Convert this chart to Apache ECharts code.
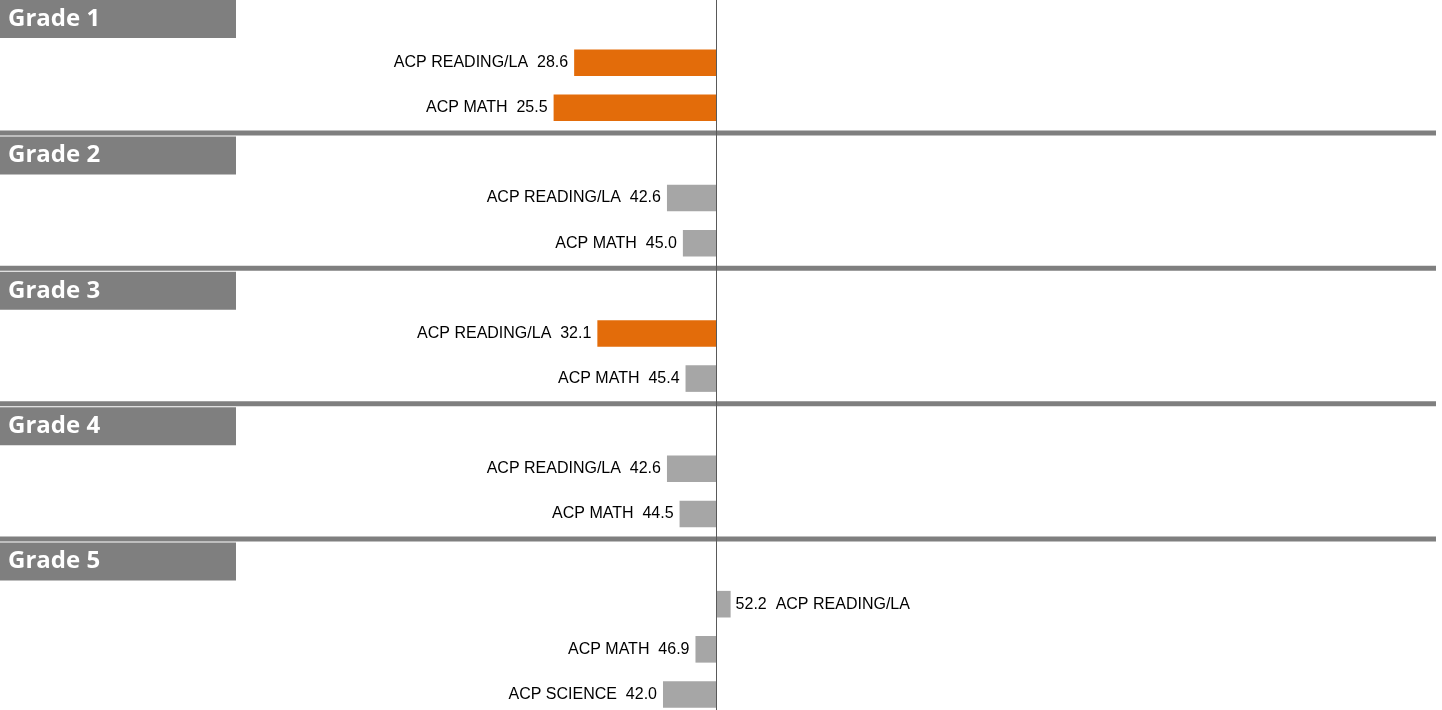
<!DOCTYPE html>
<html>
<head>
<meta charset="utf-8">
<script src="https://cdn.jsdelivr.net/npm/echarts@6/dist/echarts.min.js"></script>
<style>
  html, body { margin: 0; padding: 0; background: #fff; overflow: hidden; width: 1442px; height: 710px; }
  #main { position: absolute; left: 0; top: -5px; width: 1442px; height: 722px; }
</style>
</head>
<body>
<div id="main"></div>
<script>
// data
var grades = ['Grade 1', 'Grade 2', 'Grade 3', 'Grade 4', 'Grade 5'];
var subjects = [
  ['ACP READING/LA', 'ACP MATH'],
  ['ACP READING/LA', 'ACP MATH'],
  ['ACP READING/LA', 'ACP MATH'],
  ['ACP READING/LA', 'ACP MATH'],
  ['ACP READING/LA', 'ACP MATH', 'ACP SCIENCE']
];
var scores = [
  [28.6, 25.5],
  [42.6, 45.0],
  [32.1, 45.4],
  [42.6, 44.5],
  [52.2, 46.9, 42.0]
];
// orange = flagged
var flagged = [
  [true, true],
  [false, false],
  [true, false],
  [false, false],
  [false, false, false]
];
var baseline = 50;

// build rows: one header row per grade, then one row per subject
var rows = [];
var headerData = [];
var barData = [];
var barText = [];
grades.forEach(function (g, gi) {
  headerData.push([baseline, rows.length, gi]);
  rows.push(g);
  subjects[gi].forEach(function (s, si) {
    var v = scores[gi][si];
    barData.push([v, rows.length, flagged[gi][si] ? 1 : 0]);
    barText.push(v < baseline ? s + '  ' + v.toFixed(1) : v.toFixed(1) + '  ' + s);
    rows.push(s + '_' + gi);
  });
});

var chartDom = document.getElementById('main');
var myChart = echarts.init(chartDom);

var option = {
  animation: false,
  grid: { left: 0, right: 0, top: 0, bottom: 0 },
  xAxis: {
    type: 'value',
    min: -58,
    max: 159.5,
    show: false
  },
  yAxis: {
    type: 'category',
    data: rows,
    inverse: true,
    show: false
  },
  series: [
    {
      // grade headers + separators
      type: 'custom',
      data: headerData,
      silent: true,
      renderItem: function (params, api) {
        var row = api.value(1);
        var gi = api.value(2);
        var band = api.size([0, 1])[1];
        var top = api.coord([baseline, row])[1] - band / 2;
        var children = [];
        if (gi > 0) {
          children.push({
            type: 'rect',
            shape: { x: 0, y: top, width: 1436, height: 5 },
            style: { fill: '#7f7f7f' }
          });
        }
        var boxTop = gi > 0 ? top + 6 : 5;
        children.push({
          type: 'rect',
          shape: { x: 0, y: boxTop, width: 236, height: 38 },
          style: { fill: '#7f7f7f' }
        });
        children.push({
          type: 'text',
          x: 8,
          y: boxTop + 19,
          style: {
            text: grades[gi],
            fill: '#fff',
            font: 'bold 24px "Open Sans", sans-serif',
            align: 'left',
            verticalAlign: 'middle'
          }
        });
        return { type: 'group', children: children };
      }
    },
    {
      // score bars from the baseline
      type: 'custom',
      data: barData,
      silent: true,
      renderItem: function (params, api) {
        var v = api.value(0);
        var row = api.value(1);
        var p0 = api.coord([baseline, row]);
        var p1 = api.coord([v, row]);
        var h = api.size([0, 1])[1] * 0.59;
        var left = Math.min(p0[0], p1[0]);
        var w = Math.abs(p1[0] - p0[0]);
        var below = v < baseline;
        return {
          type: 'group',
          children: [
            {
              type: 'rect',
              shape: { x: left, y: p0[1] - h / 2, width: w, height: h },
              style: { fill: api.value(2) ? '#e36c0a' : '#a6a6a6' }
            },
            {
              type: 'text',
              x: below ? p1[0] - 6 : p1[0] + 5,
              y: p0[1],
              style: {
                text: barText[params.dataIndex],
                fill: '#000',
                font: '16px "Liberation Sans", Arial, sans-serif',
                align: below ? 'right' : 'left',
                verticalAlign: 'middle'
              }
            }
          ]
        };
      },
      markLine: {
        silent: true,
        symbol: 'none',
        label: { show: false },
        lineStyle: { color: '#595959', width: 1, type: 'solid' },
        data: [{ xAxis: baseline }]
      }
    }
  ]
};

myChart.setOption(option);
</script>
</body>
</html>
